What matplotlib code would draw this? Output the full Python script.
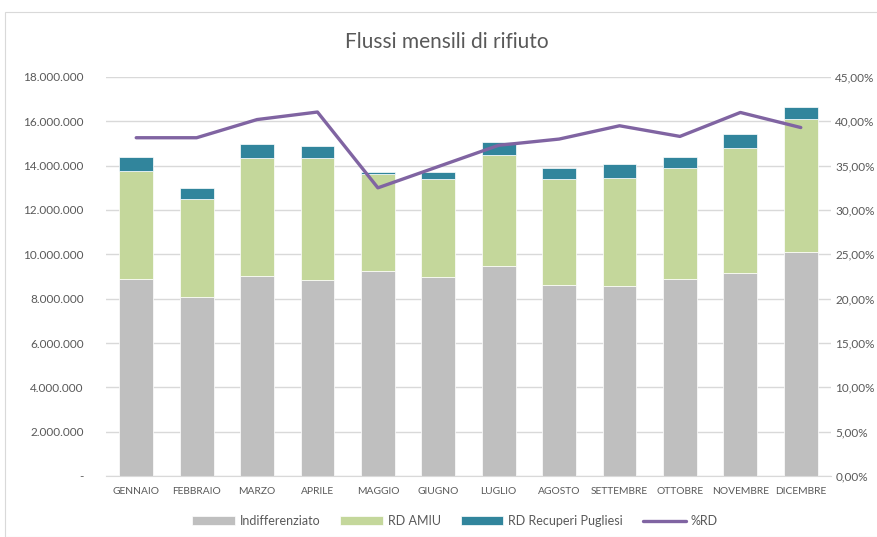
import matplotlib.pyplot as plt
from matplotlib.ticker import FuncFormatter, MultipleLocator
from matplotlib.patches import Rectangle

plt.rcParams['font.family'] = ['Lato', 'DejaVu Sans']

# dati mensili
mesi = ["GENNAIO", "FEBBRAIO", "MARZO", "APRILE", "MAGGIO", "GIUGNO",
        "LUGLIO", "AGOSTO", "SETTEMBRE", "OTTOBRE", "NOVEMBRE", "DICEMBRE"]
indifferenziato = [8890000, 8060000, 9020000, 8830000, 9260000, 8960000,
                   9470000, 8630000, 8570000, 8890000, 9160000, 10100000]
rd_amiu = [4870000, 4420000, 5310000, 5500000, 4380000, 4420000,
           5000000, 4750000, 4870000, 5000000, 5620000, 6020000]
rd_recuperi = [640000, 500000, 650000, 570000, 70000, 320000,
               580000, 500000, 630000, 510000, 650000, 520000]
perc_rd = [38.15, 38.15, 40.2, 41.05, 32.5, 34.9,
           37.3, 38.0, 39.5, 38.3, 41.0, 39.3]

grigio = "#BFBFBF"
verde = "#C4D79B"
blu = "#31859C"
viola = "#8064A2"
testo = "#595959"

fig = plt.figure(figsize=(8.77, 5.37), dpi=100)
fig.patches.append(Rectangle((5 / 877, 0), 1, 1 - 12 / 537, transform=fig.transFigure,
                             fill=False, edgecolor="#D9D9D9", linewidth=0.8))

ax = fig.add_axes([106 / 877, 61 / 537, 725 / 877, 399 / 537])
x = list(range(len(mesi)))
w = 0.56

base2 = [a + b for a, b in zip(indifferenziato, rd_amiu)]
ax.bar(x, indifferenziato, w, color=grigio, edgecolor="white", linewidth=0.5,
       label="Indifferenziato", zorder=2)
ax.bar(x, rd_amiu, w, bottom=indifferenziato, color=verde, edgecolor="white",
       linewidth=0.5, label="RD AMIU", zorder=2)
ax.bar(x, rd_recuperi, w, bottom=base2, color=blu, edgecolor="white",
       linewidth=0.5, label="RD Recuperi Pugliesi", zorder=2)

ax.set_ylim(0, 18000000)
ax.set_xlim(-0.5, len(mesi) - 0.5)
ax.yaxis.set_major_locator(MultipleLocator(2000000))
ax.yaxis.set_major_formatter(FuncFormatter(
    lambda v, p: "-" if v == 0 else f"{int(v):,}".replace(",", ".")))
ax.grid(axis="y", color="#D9D9D9", linewidth=1, zorder=0)
ax.set_axisbelow(True)
ax.set_xticks(x)
ax.set_xticklabels(mesi)
for s in ["top", "right", "left"]:
    ax.spines[s].set_visible(False)
ax.spines["bottom"].set_color("#D9D9D9")
ax.tick_params(length=0, colors=testo, labelsize=8.5)
ax.tick_params(axis="x", pad=8, labelsize=7.4)
ax.tick_params(axis="y", pad=16)

ax2 = ax.twinx()
ax2.plot(x, perc_rd, color=viola, linewidth=2.4, label="%RD", zorder=3,
         solid_joinstyle="round", solid_capstyle="round")
ax2.set_ylim(0, 45)
ax2.yaxis.set_major_locator(MultipleLocator(5))
ax2.yaxis.set_major_formatter(FuncFormatter(lambda v, p: f"{v:.2f}%".replace(".", ",")))
for s in ax2.spines.values():
    s.set_visible(False)
ax2.tick_params(length=0, colors=testo, labelsize=8.5, pad=3)

fig.text(447 / 877, 1 - 42 / 537, "Flussi mensili di rifiuto", ha="center", va="center",
         fontsize=15, color=testo)

h1, l1 = ax.get_legend_handles_labels()
h2, l2 = ax2.get_legend_handles_labels()
fig.legend(h1 + h2, l1 + l2, loc="center", bbox_to_anchor=(455 / 877, 16 / 537),
           ncol=4, frameon=False, fontsize=9, labelcolor=testo,
           handlelength=3.4, handleheight=0.7, columnspacing=1.6, handletextpad=0.4)

fig.savefig("out.png", dpi=100)
